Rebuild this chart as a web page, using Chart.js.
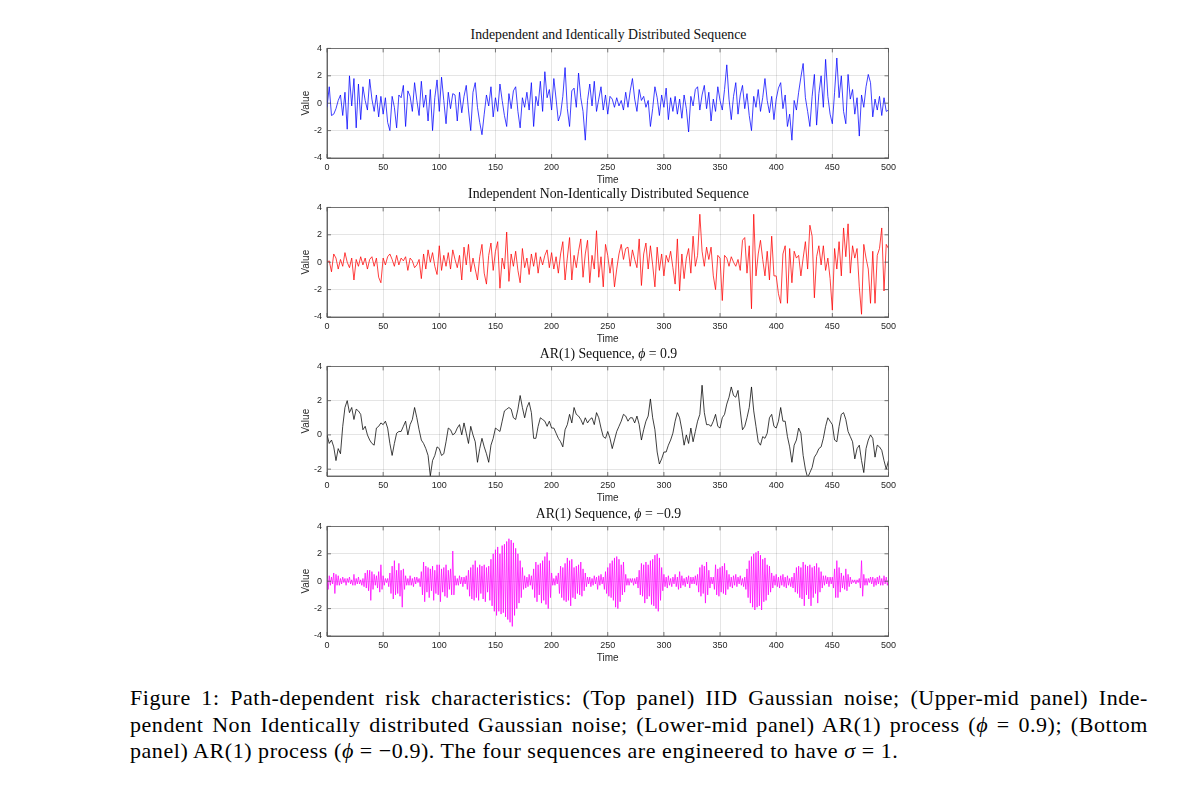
<!DOCTYPE html>
<html>
<head>
<meta charset="utf-8">
<script src="https://cdn.jsdelivr.net/npm/chart.js@4.4.1/dist/chart.umd.min.js"></script>
<style>
  html, body { margin: 0; padding: 0; background: #fff; }
  body { width: 1200px; height: 789px; position: relative; overflow: hidden; }
  canvas { position: absolute; left: 300px; }
  .ttl { position: absolute; left: 327px; width: 563px; text-align: center; white-space: nowrap;
         font: 13.8px/13px "Liberation Serif", serif; color: #111; }
  .cap { position: absolute; left: 130px; top: 685px; width: 1018px; letter-spacing: 0.55px;
         font: 22px/26.7px "Liberation Serif", serif; color: #000; }
  .cap .j { text-align: justify; text-align-last: justify; }
</style>
</head>
<body>

<div class="ttl" style="top:28px">Independent and Identically Distributed Sequence</div>
<canvas id="p1" width="600" height="150" style="top:38px"></canvas>

<div class="ttl" style="top:187px">Independent Non-Identically Distributed Sequence</div>
<canvas id="p2" width="600" height="150" style="top:197px"></canvas>

<div class="ttl" style="top:347px">AR(1) Sequence, <i>ϕ</i> = 0.9</div>
<canvas id="p3" width="600" height="150" style="top:356px"></canvas>

<div class="ttl" style="top:507px">AR(1) Sequence, <i>ϕ</i> = −0.9</div>
<canvas id="p4" width="600" height="150" style="top:516px"></canvas>

<div class="cap">
  <div class="j">Figure 1: Path-dependent risk characteristics: (Top panel) IID Gaussian noise; (Upper-mid panel) Inde-</div>
  <div class="j">pendent Non Identically distributed Gaussian noise; (Lower-mid panel) AR(1) process (<i>ϕ</i> = 0.9); (Bottom</div>
  <div>panel) AR(1) process (<i>ϕ</i> = −0.9). The four sequences are engineered to have <i>σ</i> = 1.</div>
</div>

<script>
// valeurs ; les 3 premières séries sont relevées tous les 2 pas de temps
const TIME_MIN = 0
const TIME_MAX = 500
const COARSE_STEP = 2
const FINE_STEP = 1

const iidValues = [
  -0.3, 1.2, -0.9, -0.8, -0.4, 0.2, 0.6, -0.9, 0.8, -1.9, 2.0, -0.2, 1.8, -1.8, 1.4, -1.2, 1.2, 0.2, -0.5, 1.75, 0.3, -0.6, 0.6, -1.0, 0.5,
  -0.8, 0.4, -1.4, -2.0, 0.5, -0.3, -1.8, 0.6, 0.4, 1.3, -1.7, 0.9, 0.5, -0.6, 1.5, 0.2, -0.9, 1.6, -0.3, 0.6, -1.3, 1.0, -2.0, 0.4, 1.7,
  -0.6, 1.9, 0.2, -1.5, 0.8, -0.4, 0.7, 0.6, -1.3, 0.8, -0.7, 0.5, 1.3, -0.5, -2.0, 0.8, 1.5, -0.3, -1.4, -2.3, -0.8, 0.6, -0.2, 1.2, -1.0,
  0.4, -0.6, 1.4, 0.2, -0.9, -1.7, 0.7, -0.4, 0.9, 1.2, -0.6, -1.8, 0.4, -0.3, 0.8, -0.5, 1.5, -1.7, 0.5, -0.2, 1.6, -0.6, 2.3, 0.4, 1.0,
  -0.5, 1.8, 0.3, -1.3, -0.8, 0.5, 2.6, -0.4, -1.7, 0.9, 1.1, -0.3, 2.2, 0.4, -0.6, -2.7, 0.2, 1.4, -0.2, 1.6, -0.6, 0.3, 1.2, -0.5, 0.6,
  -0.8, 0.5, 0.3, -0.3, 0.4, -0.2, 0.2, -0.5, 0.8, -0.3, 0.9, 1.8, 0.3, -0.6, 1.0, 0.2, 0.5, -0.3, 0.2, -1.7, -0.4, 1.2, 0.4, -0.9, 0.6,
  -0.3, 1.1, -1.2, 0.4, -0.6, 0.5, -0.8, 0.3, -1.1, 0.6, -0.4, -2.1, 0.5, -0.2, 1.0, 1.2, -0.5, 0.6, 1.3, -0.4, 0.8, -1.3, 0.3, -0.6, 1.2,
  0.2, -0.5, 1.0, 2.8, 0.3, -1.2, 0.5, 1.5, -0.8, 0.6, 1.3, -0.4, 0.7, -0.9, -2.0, 0.5, -0.3, 1.0, -0.6, 0.4, 1.8, 0.2, -0.7, 0.5, -1.2,
  0.3, 1.1, 1.5, -0.4, 0.6, -1.7, -0.8, -2.7, 0.2, -0.5, 0.8, 1.9, 2.9, 0.4, -0.6, -1.7, 0.5, 2.1, -1.6, 0.7, 2.0, -0.3, 3.2, 0.5, -0.8,
  -1.5, 0.8, 3.3, 0.4, 2.0, -0.6, -1.5, 2.1, 0.3, 1.0, -0.8, 0.4, -2.4, 0.6, -0.3, 1.2, 2.1, 1.5, -1.0, 0.3, -0.5, 0.5, -0.9, 0.4, -0.6,
  -0.5,
]

const inidValues = [
  0.0, 0.1, -0.7, 0.6, 0.3, -0.5, 0.2, -0.3, 0.7, 0.0, -0.4, 0.3, -1.3, 0.2, -0.3, 0.4, -0.2, 0.3, -0.5, 0.2, 0.4, -0.3, 0.3, -1.1, -1.5,
  0.3, -0.2, 0.4, 0.6, 0.2, -0.3, 0.5, -0.2, 0.3, 0.1, 0.4, -0.6, 0.3, 0.1, -0.4, -0.2, 0.2, -1.2, 0.6, -0.5, 0.9, 0.0, 0.7, -0.3, -0.9,
  1.2, -0.6, 0.5, -0.3, 0.7, -0.5, 0.9, 0.2, -0.4, 0.5, -1.3, 1.1, -0.2, 1.3, -0.7, 0.3, -0.5, -1.3, 0.4, 1.3, -0.8, -1.6, 0.5, 1.4, -0.6,
  0.8, 1.5, -1.9, 0.3, -0.5, 2.2, -1.4, 0.6, -0.3, 0.8, -0.6, -1.5, 1.0, -0.4, 0.3, -0.9, 0.6, -0.3, 0.7, -0.8, 0.4, -0.2, 0.5, 0.9, -0.4,
  0.7, -0.5, 0.4, -0.8, 0.6, 1.5, -1.3, 0.3, 1.8, -1.3, 0.5, -0.4, 0.8, 1.7, -1.1, 0.6, 1.6, -1.5, 0.5, -0.5, 2.3, -1.1, 0.4, -1.8, 1.3,
  0.5, -0.8, 0.3, -1.8, -0.5, 0.6, 1.3, 0.2, 1.0, 1.1, -0.3, 0.9, 0.2, -0.4, 1.7, -1.7, 0.6, 1.4, -0.5, 1.2, -0.2, -1.8, 1.1, -0.6, 0.6,
  -1.0, 0.5, 0.0, 0.8, -0.4, -1.6, 1.7, -2.1, 0.6, -1.2, 0.3, 1.0, -0.8, 1.9, -0.3, 0.5, 3.5, 0.8, -0.3, 1.1, 0.2, 1.1, -1.0, -2.0, 0.5,
  0.3, -2.8, 0.5, 0.3, -0.3, 0.4, 0.0, -0.3, 0.2, -0.6, 1.6, 1.8, -0.8, 1.2, -3.4, 3.5, -1.0, 0.6, 1.6, 0.2, -1.0, 0.8, -1.3, 1.9, -1.0,
  -1.0, -2.3, -3.0, 0.6, 1.2, -3.0, 1.0, -1.5, 0.8, 0.3, 0.5, -1.0, 0.3, 1.5, -0.5, 2.7, 1.9, -2.6, 0.4, 1.2, -0.2, 1.2, -0.6, 0.3, -1.2,
  -3.5, 1.0, -0.5, 1.5, -1.0, 2.5, 0.4, 2.8, -0.8, 1.2, 0.3, 1.0, -1.8, -3.8, 1.3, 0.3, -0.5, -3.0, 0.8, -3.0, 0.5, 1.0, 2.5, -2.1, 1.3,
  1.0,
]

const arPosValues = [
  0.0, -0.5, -0.3, -0.7, -1.5, -0.8, -1.1, 0.5, 1.6, 2.0, 1.3, 1.6, 0.9, 1.5, 1.4, 1.2, 0.3, 0.5, 0.0, -0.3, -0.5, -0.6, 0.4, 0.5, 0.7,
  0.6, 0.8, 0.4, -0.5, -1.2, -0.5, 0.1, 0.2, 0.2, 0.5, 0.8, 0.0, 0.6, 0.9, 1.6, 1.0, 0.3, -0.3, -0.5, -0.8, -1.2, -2.4, -1.5, -1.2, -0.7,
  -0.8, -1.2, -1.1, -0.4, 0.4, 0.3, 0.0, 0.1, 0.4, 0.6, 0.0, 0.7, 0.1, -0.5, 0.5, 0.0, -0.4, -1.6, -0.8, -0.2, -0.7, -1.1, -1.6, -0.6, -0.2,
  0.4, 0.3, 0.2, 0.8, 1.4, 1.5, 1.6, 1.5, 1.0, 0.9, 1.5, 2.3, 1.6, 1.0, 1.6, 1.9, 1.3, -0.2, -0.2, 0.5, 1.0, 0.9, 0.8, 0.5, 0.8,
  0.4, 0.4, 0.1, -0.2, -0.4, -0.7, 0.3, 0.6, 1.2, 0.7, 1.6, 1.2, 1.1, 0.9, 0.6, 1.0, 0.7, 0.9, 1.0, 0.6, 1.3, 1.0, 0.4, -0.1, -0.2,
  0.2, -0.2, -0.8, -0.3, 0.2, 0.5, 0.8, 1.2, 1.1, 0.8, 1.0, 1.0, 0.7, 1.1, 0.6, -0.3, 0.3, 0.8, 1.1, 2.1, 1.0, 0.3, -1.0, -1.7, -1.4,
  -1.0, -1.0, -0.6, -0.3, 0.1, 0.8, 1.3, 1.0, 0.3, -0.6, 0.0, -0.5, 0.4, -0.4, 0.2, 0.8, 1.2, 2.9, 1.3, 0.6, 0.6, 0.5, 0.8, 1.2, 0.5,
  0.4, 1.0, 1.2, 1.8, 2.2, 2.8, 2.3, 2.2, 2.6, 1.4, 0.3, 0.5, 1.0, 1.6, 2.8, 1.4, 0.5, -0.4, -0.6, -0.1, -0.2, 0.1, 1.0, 1.2, 0.5,
  0.4, 0.8, 1.6, 0.8, 0.8, -0.1, -0.7, -1.6, -0.6, -0.3, 0.4, 0.1, -1.2, -2.0, -2.5, -2.2, -1.9, -1.3, -1.1, -0.8, -0.7, -0.2, 0.5, 1.0, 0.8,
  0.6, -0.3, -0.4, 0.5, 1.2, 1.3, 0.9, 0.2, -0.1, -0.4, -1.4, -0.8, -0.6, -1.5, -2.2, -0.8, -0.3, 0.0, -0.2, -1.3, -0.6, -0.7, -0.9, -1.5, -2.0,
  -1.5,
]

// AR(1) φ = -0.9 : relevé à chaque pas (le signe alterne)
const arNegValues = [
  0.2, -0.6, 0.4, -0.3, 0.3, -0.2, 0.6, -0.9, 0.5, -0.3, 0.4, -0.3, 0.2, -0.2, 0.3, -0.1, 0.2, -0.3, 0.2, -0.1, 0.3, -0.2, 0.1, -0.3, 0.5,
  -0.3, 0.2, -0.2, 0.3, -0.2, 0.1, -0.3, 0.2, -0.4, 0.6, -0.5, 0.8, -0.7, 0.8, -1.4, 0.7, -0.6, 0.5, -0.3, 0.4, -0.5, 0.7, -0.8, 1.2, -0.6,
  0.4, -0.3, 0.2, -0.1, 0.2, -0.4, 0.6, -0.9, 1.1, -1.3, 1.5, -1.0, 0.8, -0.9, 1.3, -1.1, 0.8, -1.9, 0.9, -0.6, 0.4, -0.3, 0.2, -0.3, 0.4,
  -0.3, 0.2, -0.4, 0.3, -0.2, 0.3, -0.1, 0.2, -0.4, 0.7, -1.0, 1.4, -1.5, 1.1, -0.8, 1.0, -1.2, 0.9, -0.7, 1.1, -1.4, 0.8, -0.9, 1.2, -1.0,
  1.2, -1.5, 0.9, -0.8, 1.0, -1.1, 1.2, -1.2, 0.8, -0.6, 0.9, -1.0, 2.2, -1.0, 0.4, -0.3, 0.2, -0.3, 0.4, -0.2, 0.3, -0.4, 0.3, -0.2, 0.4,
  -0.6, 0.8, -1.1, 1.0, -1.3, 1.2, -1.4, 1.5, -1.2, 1.0, -1.4, 1.2, -0.9, 1.1, -1.3, 1.2, -1.5, 1.0, -0.8, 1.1, -1.4, 1.6, -1.8, 2.0, -2.2,
  2.3, -2.5, 2.5, -2.2, 2.0, -2.4, 2.6, -2.3, 2.7, -2.6, 2.9, -2.8, 3.1, -3.0, 3.0, -3.3, 2.8, -2.5, 2.4, -2.0, 2.0, -1.6, 1.5, -1.2, 1.0,
  -0.6, 0.4, -0.5, 0.3, -0.4, 0.5, -0.3, 0.4, -0.6, 0.9, -1.2, 1.4, -1.5, 1.2, -1.0, 1.3, -1.6, 1.5, -1.4, 1.8, -1.7, 2.1, -2.0, 1.5, -1.2,
  0.6, -0.3, 0.2, -0.3, 0.4, -0.2, 0.6, -0.9, 1.1, -1.2, 1.0, -1.4, 1.3, -1.5, 1.7, -1.4, 1.5, -1.8, 1.6, -1.2, 1.0, -1.3, 1.1, -0.9, 1.2,
  -1.0, 1.4, -1.1, 0.9, -0.7, 0.6, -0.4, 0.3, -0.2, 0.3, -0.4, 0.2, -0.3, 0.4, -0.2, 0.3, -0.6, 0.4, -0.3, 0.5, -0.2, 0.3, -0.6, 0.7, -0.9,
  1.0, -1.1, 1.3, -1.2, 1.5, -1.4, 1.7, -1.9, 1.8, -2.0, 1.6, -1.5, 1.2, -1.0, 1.4, -0.8, 0.5, -0.3, 0.2, -0.3, 0.2, -0.1, 0.2, -0.3, 0.2,
  -0.2, 0.3, -0.5, 0.8, -1.0, 1.3, -1.1, 1.2, -1.6, 1.4, -1.3, 1.2, -1.1, 1.5, -1.7, 1.6, -1.8, 1.9, -2.0, 2.0, -2.2, 1.7, -1.4, 1.0, -0.7,
  0.5, -0.4, 0.3, -0.5, 0.4, -0.3, 0.2, -0.4, 0.3, -0.2, 0.5, -0.4, 0.3, -0.6, 0.7, -0.5, 0.4, -0.3, 0.2, -0.4, 0.3, -0.2, 0.4, -0.5, 0.3,
  -0.2, 0.3, -0.2, 0.4, -0.3, 0.5, -0.8, 1.0, -1.1, 1.2, -0.9, 1.1, -1.6, 1.4, -1.0, 0.8, -0.5, 0.3, -0.2, 0.3, -0.6, 1.2, -1.0, 0.9, -1.1,
  1.0, -0.8, 1.1, -0.9, 1.3, -1.0, 0.8, -0.6, 0.5, -0.4, 0.3, -0.5, 0.4, -0.3, 0.5, -0.4, 0.3, -0.2, 0.4, -0.3, 0.2, -0.4, 0.3, -0.6, 0.9,
  -1.2, 1.5, -1.6, 1.8, -1.9, 2.0, -2.1, 2.1, -1.9, 2.2, -1.8, 1.9, -2.1, 1.6, -1.5, 1.7, -1.4, 1.2, -1.0, 1.1, -0.8, 0.6, -0.5, 0.4, -0.3,
  0.5, -0.4, 0.3, -0.5, 0.4, -0.3, 0.5, -0.4, 0.3, -0.5, 0.4, -0.3, 0.2, -0.4, 0.3, -0.5, 0.6, -0.8, 1.0, -0.9, 1.1, -1.2, 1.0, -1.3, 1.4,
  -1.8, 1.2, -1.0, 1.1, -1.3, 1.2, -1.8, 1.0, -1.2, 1.1, -0.9, 1.3, -1.6, 1.0, -0.8, 0.7, -0.5, 0.4, -0.3, 0.4, -0.2, 0.3, -0.4, 0.3, -0.2,
  0.3, -0.5, 0.9, -1.2, 1.5, -1.2, 1.0, -0.8, 0.6, -0.5, 0.4, -0.6, 0.9, -0.7, 0.5, -0.4, 0.3, -0.2, 0.1, -0.1, 0.1, -0.2, 0.1, -0.1, 0.2,
  -0.5, 1.5, -1.1, 0.5, -0.3, 0.2, -0.3, 0.2, -0.1, 0.3, -0.2, 0.3, -0.4, 0.2, -0.3, 0.3, -0.2, 0.4, -0.3, 0.2, -0.3, 0.4, -0.2, 0.3, -0.3,
  0.1,
]

const AXIS = "#262626"
const BOX = "#555555"
const GRID = "rgba(0,0,0,0.10)"
const TICK_FONT = { family: "Liberation Sans, Arial, sans-serif", size: 9 }
const LABEL_FONT = { family: "Liberation Sans, Arial, sans-serif", size: 10 }

// cadre complet + petites graduations vers l'intérieur (style MATLAB)
const boxPlugin = {
  id: "box",
  afterDraw(chart) {
    const { ctx, chartArea: a, scales } = chart
    ctx.save()
    ctx.strokeStyle = BOX
    ctx.lineWidth = 0.8
    ctx.strokeRect(a.left, a.top, a.right - a.left, a.bottom - a.top)
    ctx.beginPath()
    scales.x.ticks.forEach((t) => {
      const px = scales.x.getPixelForValue(t.value)
      ctx.moveTo(px, a.bottom); ctx.lineTo(px, a.bottom - 4)
      ctx.moveTo(px, a.top); ctx.lineTo(px, a.top + 4)
    })
    scales.y.ticks.forEach((t) => {
      const py = scales.y.getPixelForValue(t.value)
      ctx.moveTo(a.left, py); ctx.lineTo(a.left + 4, py)
      ctx.moveTo(a.right, py); ctx.lineTo(a.right - 4, py)
    })
    ctx.stroke()
    ctx.restore()
  },
}

function panel(id, values, step, color, yMin) {
  const points = values.map((v, i) => ({ x: TIME_MIN + i * step, y: v }))
  return new Chart(document.getElementById(id), {
    type: "line",
    data: {
      datasets: [{ data: points, borderColor: color, borderWidth: 0.75, pointRadius: 0, tension: 0, fill: false }],
    },
    plugins: [boxPlugin],
    options: {
      responsive: false,
      animation: false,
      events: [],
      layout: { padding: { top: 8, right: 10, left: 0, bottom: 0 } },
      plugins: { legend: { display: false }, tooltip: { enabled: false } },
      scales: {
        x: {
          type: "linear",
          min: TIME_MIN,
          max: TIME_MAX,
          afterFit: (s) => { s.height = 30 },
          grid: { color: GRID, drawTicks: false },
          border: { color: BOX, width: 0.8 },
          ticks: { stepSize: 50, autoSkip: false, maxRotation: 0, padding: 4, color: AXIS, font: TICK_FONT },
          title: { display: true, text: "Time", color: AXIS, font: LABEL_FONT, padding: { top: 0, bottom: 2 } },
        },
        y: {
          min: yMin,
          max: 4,
          afterFit: (s) => { s.width = 27 },
          grid: { color: GRID, drawTicks: false },
          border: { color: BOX, width: 0.8 },
          ticks: { stepSize: 2, includeBounds: false, padding: 5, color: AXIS, font: TICK_FONT },
          title: { display: true, text: "Value", color: AXIS, font: LABEL_FONT, padding: 0 },
        },
      },
    },
  })
}

panel("p1", iidValues, COARSE_STEP, "#0000ff", -4)
panel("p2", inidValues, COARSE_STEP, "#ff0000", -4)
panel("p3", arPosValues, COARSE_STEP, "#000000", -2.4)
panel("p4", arNegValues, FINE_STEP, "#ff00ff", -4)
</script>
</body>
</html>
